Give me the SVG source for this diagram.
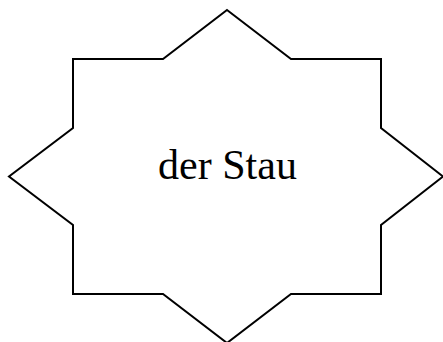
<svg xmlns="http://www.w3.org/2000/svg" width="443" height="342" viewBox="0 0 443 342">
<style>
.shape{fill:#fff;stroke:#000;stroke-width:2}
.lbl{font-family:"Liberation Serif","Times New Roman",serif;font-size:42px;fill:#000;text-anchor:middle}
</style>
<rect width="443" height="342" fill="#fff"/>
<g id="node-stau">
<polygon class="shape" points="227,10 291,59 381,59 381,128 443,176.5 381,225 381,294 291,294 227,343 163,294 73,294 73,225 9,176.5 73,128 73,59 163,59"/>
<text class="lbl" x="227.5" y="179">der Stau</text>
</g>
<g id="connectors"></g>
</svg>
